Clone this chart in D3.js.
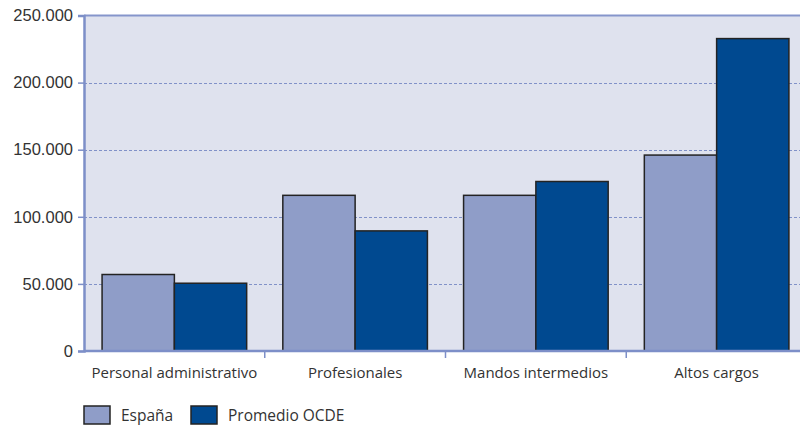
<!DOCTYPE html>
<html>
<head>
<meta charset="utf-8">
<script src="https://cdn.jsdelivr.net/npm/d3@7"></script>
<style>
  html, body { margin: 0; padding: 0; background: #fff; }
  svg { display: block; font-family: "Open Sans", "Noto Sans", sans-serif; }
</style>
</head>
<body>
<svg id="chart" width="800" height="425"></svg>
<script>
// Categories, series and tick labels
const categories = ["Personal administrativo", "Profesionales", "Mandos intermedios", "Altos cargos"];
const seriesNames = ["España", "Promedio OCDE"];
const espana = [57000, 116000, 116000, 146000];
const ocde = [50500, 89500, 126300, 232800];
const yTicks = [0, 50000, 100000, 150000, 200000, 250000];
const yTickLabels = ["0", "50.000", "100.000", "150.000", "200.000", "250.000"];

const colors = ["#8f9dc8", "#004990"];
const svg = d3.select("#chart");

const plotLeft = 84, plotRight = 807, plotTop = 15.5, plotBottom = 351;

const x = d3.scaleBand().domain(categories).range([plotLeft, plotRight]).paddingInner(0).paddingOuter(0);
const x1 = d3.scaleBand().domain(seriesNames).range([0, x.bandwidth()]).paddingOuter(0.25).paddingInner(0);
const y = d3.scaleLinear().domain([0, 250000]).range([plotBottom, plotTop]);

// plot background
svg.append("rect")
  .attr("x", plotLeft).attr("y", plotTop)
  .attr("width", plotRight - plotLeft).attr("height", plotBottom - plotTop)
  .attr("fill", "#dfe2ee");

// dashed gridlines
svg.append("g")
  .selectAll("line")
  .data(yTicks.filter(d => d > 0 && d < 250000))
  .join("line")
  .attr("x1", plotLeft).attr("x2", plotRight)
  .attr("y1", d => Math.round(y(d)) + 0.5).attr("y2", d => Math.round(y(d)) + 0.5)
  .attr("stroke", "#8191c8")
  .attr("stroke-width", 1.2)
  .attr("stroke-dasharray", "3,2");

// top border
svg.append("line")
  .attr("x1", plotLeft).attr("x2", plotRight)
  .attr("y1", y(250000)).attr("y2", y(250000))
  .attr("stroke", "#8595cb").attr("stroke-width", 2);

// bars
const data = categories.map((c, i) => ({ cat: c, values: [espana[i], ocde[i]] }));
svg.append("g")
  .selectAll("g")
  .data(data)
  .join("g")
  .attr("transform", d => `translate(${x(d.cat)},0)`)
  .selectAll("rect")
  .data(d => d.values.map((v, j) => ({ name: seriesNames[j], value: v, j })))
  .join("rect")
  .attr("x", d => x1(d.name))
  .attr("y", d => y(d.value))
  .attr("width", x1.bandwidth())
  .attr("height", d => y(0) - y(d.value))
  .attr("fill", d => colors[d.j])
  .attr("stroke", "#232323")
  .attr("stroke-width", 1.5);

// y axis
const yAxis = d3.axisLeft(y)
  .tickValues(yTicks)
  .tickFormat((d, i) => yTickLabels[i])
  .tickSize(6)
  .tickPadding(5);
const gy = svg.append("g").attr("transform", `translate(${plotLeft},0)`).call(yAxis);
gy.select(".domain").attr("stroke", "#7d8fc8").attr("stroke-width", 2.5);
gy.selectAll(".tick line").attr("stroke", "#7d8fc8").attr("stroke-width", 1.5);
gy.selectAll(".tick text").attr("fill", "#333").attr("font-size", 16.5);

// x axis with ticks at category boundaries
const gx = svg.append("g").attr("transform", `translate(0,${plotBottom})`);
gx.append("line")
  .attr("x1", plotLeft).attr("x2", plotRight)
  .attr("stroke", "#7d8fc8").attr("stroke-width", 2.5);
const boundaries = categories.map(c => x(c)).concat([plotRight]);
gx.selectAll("line.tk")
  .data(boundaries.slice(1))
  .join("line")
  .attr("class", "tk")
  .attr("x1", d => d).attr("x2", d => d)
  .attr("y1", 0).attr("y2", 7)
  .attr("stroke", "#7d8fc8").attr("stroke-width", 1.5);
gx.selectAll("text")
  .data(categories)
  .join("text")
  .attr("x", d => x(d) + x.bandwidth() / 2)
  .attr("y", 27)
  .attr("text-anchor", "middle")
  .attr("fill", "#333")
  .attr("font-size", 15)
  .text(d => d);

// legend
const legendPos = [84, 191];
const legend = svg.append("g").attr("transform", "translate(0,406)");
seriesNames.forEach((name, i) => {
  legend.append("rect")
    .attr("x", legendPos[i]).attr("y", 0)
    .attr("width", 26).attr("height", 18)
    .attr("fill", colors[i]).attr("stroke", "#232323").attr("stroke-width", 1.5);
  legend.append("text")
    .attr("x", legendPos[i] + 37).attr("y", 15)
    .attr("fill", "#333").attr("font-size", 15.5)
    .text(name);
});
</script>
</body>
</html>
